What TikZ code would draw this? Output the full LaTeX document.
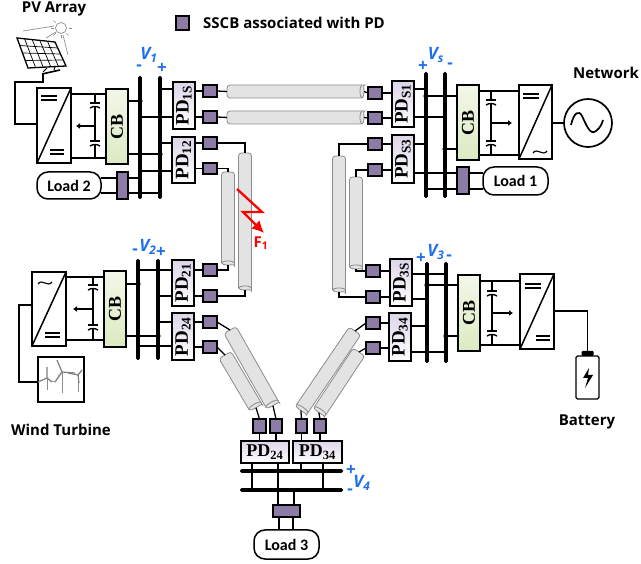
\documentclass[tikz,border=0pt]{standalone}
\usepackage{fontspec}
\setmainfont{Liberation Serif}
\newfontfamily\lab{Open Sans}
\newfontfamily\labc{Carlito}
\usetikzlibrary{calc,arrows.meta,shapes.geometric}
\definecolor{sscbc}{HTML}{8B7BA5}
\definecolor{vblue}{HTML}{1F6FEB}
\definecolor{cablec}{HTML}{E3E3E3}
\definecolor{cabled}{HTML}{8C8C8C}
\definecolor{pdtop}{HTML}{DDD5E8}
\definecolor{cbtop}{HTML}{F2F7E8}
\definecolor{cbbot}{HTML}{DCEAC2}
\tikzset{
  wire/.style={line width=1.3pt,black},
  sscb/.style={draw=black,line width=1.5pt,fill=sscbc,inner sep=0pt,outer sep=0pt},
  pdbox/.style={draw=black,line width=1.5pt,top color=pdtop,bottom color=white,inner sep=0pt,outer sep=0pt,font=\bfseries\fontsize{19}{19}\selectfont},
  pdflat/.style={pdbox,font=\bfseries\fontsize{18}{18}\selectfont},
  cbbox/.style={draw=black,line width=1.5pt,top color=cbtop,bottom color=cbbot,inner sep=0pt,outer sep=0pt,font=\bfseries\fontsize{18}{18}\selectfont},
  convbox/.style={draw=black,line width=1.5pt,fill=white,inner sep=0pt,outer sep=0pt},
  loadbox/.style={draw=black,line width=1.5pt,fill=white,rounded corners=11pt,inner sep=0pt,outer sep=0pt,font=\labc\bfseries\fontsize{16}{16}\selectfont},
  busbar/.style={fill=black,rounded corners=1.5pt,inner sep=0pt,outer sep=0pt},
  panelbox/.style={draw=black,line width=1.5pt,fill=white,inner sep=0pt,outer sep=0pt},
  title/.style={font=\lab\bfseries\fontsize{15}{16}\selectfont,inner sep=0pt},
  vlabel/.style={font=\lab\bfseries\itshape\fontsize{17}{18}\selectfont,text=vblue,inner sep=0pt},
  vsign/.style={font=\lab\bfseries\fontsize{17}{17}\selectfont,text=vblue,inner sep=0pt},
  vminus/.style={vsign,text height=5pt,text depth=0pt},
  gline/.style={draw=black!45,line width=0.7pt},
  blade/.style={draw=black!50,line width=1.2pt},
}
% name x1 y1 x2 y2 style text
\newcommand\bx[7]{\node[#6,minimum width={(#4-(#2))*1pt},minimum height={(#5-(#3))*1pt}] (#1) at ({(#2+#4)/2},{(#3+#5)/2}) {#7};}
\newcommand\rt[1]{\rotatebox{90}{#1}}
\newcommand\pd[1]{\rt{PD\textsubscript{#1}}}
\newcommand\hw[3]{\draw[wire] (#1 |- 0,#3) -- (#2 |- 0,#3);}
\newcommand\vw[3]{\draw[wire] (#3,0 |- #1) -- (#3,0 |- #2);}
\newcommand\dt[3]{\fill (#1 |- 0,#2) circle (#3pt);}
\newcommand\stub[2]{\draw[wire] (#1) -- (#1 -| #2);}
% cable: name, rounded end x y, cylinder end x y, half width
\newcommand\cable[6]{%
  \pgfmathsetmacro\cang{atan2((#5)-(#3),(#4)-(#2))}%
  \pgfmathsetmacro\clen{veclen((#5)-(#3),(#4)-(#2))}%
  \begin{scope}[shift={(#2,#3)},x=1pt,y=1pt,rotate=-\cang]
    \draw[draw=cabled,line width=0.8pt,fill=cablec] [rounded corners=3pt] (\clen,-#6) -- (0,-#6) -- (0,#6) -- (\clen,#6) [sharp corners] arc (90:-90:2 and #6);
    \draw[draw=cabled,line width=0.8pt] (\clen,#6) arc (90:270:2 and #6);
    \coordinate (#1a) at (0,0);
    \coordinate (#1b) at ({\clen+2},0);
  \end{scope}}
% capacitor branch: x, ytop, ybot, plate1, plate2
\newcommand\capb[5]{%
  \draw[wire] (#1,#2) -- (#1,#3);
  \foreach \py in {#4,#5}{
    \fill[white] (#1-1,\py-1) rectangle (#1+1,\py+1);
    \draw[line width=1.4pt] (#1-5,\py-2) -- (#1+5,\py-2);
    \draw[line width=1.4pt] (#1-5,\py+3) .. controls (#1-2,\py+1) and (#1+2,\py+1) .. (#1+5,\py+3);
  }}
\newcommand\tild[2]{\draw[line width=1.1pt] (#1-7,#2+1) .. controls (#1-3,#2-5) and (#1+3,#2+5) .. (#1+7,#2-1);}
\newcommand\dbl[3]{\draw[line width=1.1pt] (#1,#3-2) -- (#2,#3-2) (#1,#3+2) -- (#2,#3+2);}
\begin{document}
\begin{tikzpicture}[x=1pt,y=-1pt]
\useasboundingbox (0,0) rectangle (641,564);
% ---- cables
\cable{cA}{245}{153}{245}{288}{6.5}
\cable{cB}{228}{172}{228}{263}{6.5}
\cable{cC}{339}{156}{339}{290}{6.5}
\cable{cD}{356}{177}{356}{267}{6.5}
\cable{hA}{227}{91.5}{362}{91.5}{6.5}
\cable{hB}{227}{117.5}{362}{117.5}{6.5}
\cable{dA}{230}{330}{272}{404}{7}
\cable{dB}{225}{355}{255}{406}{7}
\cable{dC}{355}{331}{302}{409}{7}
\cable{dD}{359}{352}{320}{411}{7}
% ---- buses
\bx{bOa}{138.2}{76}{141.8}{199}{busbar}{}
\bx{bOb}{158.2}{76}{161.8}{199}{busbar}{}
\bx{bSa}{424.2}{72}{427.8}{198}{busbar}{}
\bx{bSb}{443.2}{72}{446.8}{198}{busbar}{}
\bx{bTa}{136.2}{259}{139.8}{360}{busbar}{}
\bx{bTb}{156.2}{259}{159.8}{360}{busbar}{}
\bx{bRa}{425.2}{262}{428.8}{363}{busbar}{}
\bx{bRb}{444.2}{262}{447.8}{363}{busbar}{}
\bx{bBa}{240}{469.2}{343}{472.8}{busbar}{}
\bx{bBb}{240}{488.2}{343}{491.8}{busbar}{}
% ---- CB
\bx{cbO}{106}{89}{128}{164}{cbbox}{\rt{CB}}
\bx{cbS}{457}{85}{479}{160}{cbbox}{\rt{CB}}
\bx{cbT}{104}{271}{126}{347}{cbbox}{\rt{CB}}
\bx{cbR}{458}{275}{480}{351}{cbbox}{\rt{CB}}
% ---- PD
\bx{pdOs}{173}{82}{195}{129}{pdbox}{\pd{1S}}
\bx{pdOt}{172}{137}{195}{183}{pdbox}{\pd{12}}
\bx{pdSa}{392}{81}{414}{127}{pdbox}{\pd{S1}}
\bx{pdSb}{392}{135}{414}{183}{pdbox}{\pd{S3}}
\bx{pdTa}{172}{260}{194}{306}{pdbox}{\pd{21}}
\bx{pdTb}{172}{313}{194}{360}{pdbox}{\pd{24}}
\bx{pdRa}{390}{259}{412}{306}{pdbox}{\pd{3S}}
\bx{pdRb}{389}{313}{411}{361}{pdbox}{\pd{34}}
\bx{pdBa}{241}{441}{289}{463}{pdflat}{PD\textsubscript{24}}
\bx{pdBb}{293}{441}{342}{463}{pdflat}{PD\textsubscript{34}}
% ---- SSCB
\bx{legend}{176}{16}{189}{30}{sscb}{}
\bx{sOa}{203}{85}{217}{97}{sscb}{}
\bx{sOb}{203}{111}{217}{123}{sscb}{}
\bx{sOc}{203}{137}{217}{149}{sscb}{}
\bx{sOd}{203}{163}{217}{174}{sscb}{}
\bx{sSa}{368}{87}{382}{99}{sscb}{}
\bx{sSb}{368}{112}{382}{124}{sscb}{}
\bx{sSc}{368}{138}{382}{150}{sscb}{}
\bx{sSd}{368}{164}{382}{176}{sscb}{}
\bx{sTa}{203}{264}{217}{276}{sscb}{}
\bx{sTb}{203}{290}{217}{302}{sscb}{}
\bx{sTc}{203}{316}{217}{328}{sscb}{}
\bx{sTd}{203}{341}{217}{353}{sscb}{}
\bx{sRa}{366}{265}{380}{277}{sscb}{}
\bx{sRb}{366}{291}{380}{303}{sscb}{}
\bx{sRc}{366}{317}{380}{329}{sscb}{}
\bx{sRd}{366}{342}{380}{354}{sscb}{}
\bx{sBa}{253}{419}{266}{433}{sscb}{}
\bx{sBb}{270}{419}{282}{433}{sscb}{}
\bx{sBc}{296}{419}{307}{433}{sscb}{}
\bx{sBd}{314}{419}{326}{433}{sscb}{}
\bx{sLa}{117}{172}{128}{199}{sscb}{}
\bx{sLb}{457}{167}{469}{194}{sscb}{}
\bx{sLc}{273}{505}{300}{517}{sscb}{}
% ---- loads
\bx{loadB}{37}{172}{101}{199}{loadbox}{Load 2}
\bx{loadA}{483}{167}{548}{195}{loadbox}{Load 1}
\bx{loadC}{254}{530}{319}{559}{loadbox}{Load 3}
% ---- converters
\bx{cvO}{37}{88}{71}{163}{convbox}{}
\bx{cvS}{519}{85}{552}{159}{convbox}{}
\bx{cvT}{32}{272}{66}{346}{convbox}{}
\bx{cvR}{520}{274}{554}{349}{convbox}{}
\foreach \c in {cvO,cvS,cvT,cvR}{\draw[line width=1.5pt] (\c.south west) -- (\c.north east);}
\dbl{41}{57}{98} \dbl{50}{64}{152}
\dbl{523}{539}{96} \tild{540}{152}
\tild{45}{283} \dbl{45}{60}{335}
\dbl{525}{541}{286} \dbl{536}{550}{338}
% ---- PV loop, wind loop
\coordinate (pvfoot) at (43,74);
\coordinate (pvbend) at (15,82);
\coordinate (pvleft) at (15,124);
\draw[wire] (pvfoot) |- (pvbend) -- (pvleft) -- (cvO.west |- pvleft);
\bx{wind}{38}{357}{84}{402}{panelbox}{}
\coordinate (wdtop) at (19,305);
\coordinate (wdbot) at (19,382);
\draw[wire] (cvT.west |- wdtop) -- (wdtop) -- (wdbot) -- (wind.west |- wdbot);
% ---- capacitor branches
\hw{cvO.east}{cbO.west}{94}
\hw{cvO.east}{cbO.west}{158}
\capb{95}{94}{158}{105}{143}
\draw[wire,-{Latex[length=4pt,width=6pt]}] (95,126) -- (76,126);
\hw{cvS.west}{cbS.east}{91}
\hw{cvS.west}{cbS.east}{155}
\capb{491}{91}{155}{102}{143}
\draw[wire,-{Latex[length=4pt,width=6pt]}] (491,123) -- (512,123);
\hw{cvT.east}{cbT.west}{277}
\hw{cvT.east}{cbT.west}{340}
\capb{93}{277}{340}{287}{327}
\draw[wire,-{Latex[length=4pt,width=6pt]}] (93,309) -- (73,309);
\hw{cvR.west}{cbR.east}{281}
\hw{cvR.west}{cbR.east}{345}
\capb{492}{281}{345}{293}{333}
\draw[wire,-{Latex[length=4pt,width=6pt]}] (492,313) -- (513,313);
% ---- CB to bus
\hw{cbO.east}{bOa}{101} \dt{bOa}{101}{2.6}
\hw{cbO.east}{bOb}{154} \dt{bOb}{154}{2.6}
\hw{cbS.west}{bSa}{96}  \dt{bSa}{96}{2.6}
\hw{cbS.west}{bSb}{149} \dt{bSb}{149}{2.6}
\hw{cbT.east}{bTa}{284} \dt{bTa}{284}{2.6}
\hw{cbT.east}{bTb}{336} \dt{bTb}{336}{2.6}
\hw{cbR.west}{bRa}{285} \dt{bRa}{285}{2.6}
\hw{cbR.west}{bRb}{336} \dt{bRb}{336}{2.6}
% ---- PD to bus
\hw{pdOs.west}{bOb}{89}  \dt{bOb}{89}{2}
\hw{pdOs.west}{bOa}{117} \dt{bOa}{117}{2}
\hw{pdOt.west}{bOb}{143} \dt{bOb}{143}{2}
\hw{pdOt.west}{bOa}{171} \dt{bOa}{171}{2}
\hw{pdSa.east}{bSa}{89}  \dt{bSa}{89}{2}
\hw{pdSa.east}{bSb}{117} \dt{bSb}{117}{2}
\hw{pdSb.east}{bSa}{144} \dt{bSa}{144}{2}
\hw{pdSb.east}{sLb.west}{173} \dt{bSb}{173}{2}
\hw{bSa}{sLb.west}{189} \dt{bSa}{189}{2}
\hw{sLa.east}{bOa}{178} \dt{bOa}{178}{2}
\hw{sLa.east}{bOb}{193} \dt{bOb}{193}{2}
\hw{loadB.east}{sLa.west}{178}
\hw{loadB.east}{sLa.west}{193}
\hw{sLb.east}{loadA.west}{173}
\hw{sLb.east}{loadA.west}{189}
\hw{pdTa.west}{bTa}{270} \dt{bTa}{270}{2}
\hw{pdTa.west}{bTb}{296} \dt{bTb}{296}{2}
\hw{pdTb.west}{bTb}{322} \dt{bTb}{322}{2}
\hw{pdTb.west}{bTa}{346} \dt{bTa}{346}{2}
\hw{pdRa.east}{bRb}{274} \dt{bRb}{274}{2}
\hw{pdRa.east}{bRa}{299} \dt{bRa}{299}{2}
\hw{pdRb.east}{bRa}{326} \dt{bRa}{326}{2}
\hw{pdRb.east}{bRb}{352} \dt{bRb}{352}{2}
% ---- SSCB stubs
\stub{sOa.west}{pdOs.east} \stub{sOb.west}{pdOs.east}
\stub{sOc.west}{pdOt.east} \stub{sOd.west}{pdOt.east}
\stub{sSa.east}{pdSa.west} \stub{sSb.east}{pdSa.west}
\stub{sSc.east}{pdSb.west} \stub{sSd.east}{pdSb.west}
\stub{sTa.west}{pdTa.east} \stub{sTb.west}{pdTa.east}
\stub{sTc.west}{pdTb.east} \stub{sTd.west}{pdTb.east}
\stub{sRa.east}{pdRa.west} \stub{sRb.east}{pdRa.west}
\stub{sRc.east}{pdRb.west} \stub{sRd.east}{pdRb.west}
\draw[wire] (sBa.south) -- (sBa.south |- pdBa.north);
\draw[wire] (sBb.south) -- (sBb.south |- pdBa.north);
\draw[wire] (sBc.south) -- (sBc.south |- pdBb.north);
\draw[wire] (sBd.south) -- (sBd.south |- pdBb.north);
% ---- SSCB to cables
\draw[wire] (sOc.east) -| (cAa); \draw[wire] (sOd.east) -| (cBa);
\draw[wire] (sTa.east) -| (cBb); \draw[wire] (sTb.east) -| (cAb);
\draw[wire] (sSc.west) -| (cCa); \draw[wire] (sSd.west) -| (cDa);
\draw[wire] (sRa.west) -| (cDb); \draw[wire] (sRb.west) -| (cCb);
\draw[wire] (sOa.east) -- (hAa); \draw[wire] (sOb.east) -- (hBa);
\draw[wire] (sSa.west) -- (hAb); \draw[wire] (sSb.west) -- (hBb);
\draw[wire] (sTc.east) -- (dAa); \draw[wire] (sTd.east) -- (dBa);
\draw[wire] (sRc.west) -- (dCa); \draw[wire] (sRd.west) -- (dDa);
\draw[wire] (dAb) -- (sBb.north); \draw[wire] (dBb) -- (sBa.north);
\draw[wire] (dCb) -- (sBc.north); \draw[wire] (dDb) -- (sBd.north);
% ---- bottom bus
\vw{pdBa.south}{bBb}{252}
\fill (252,0 |- bBb) circle (2pt);
\vw{pdBa.south}{sLc.north}{278} \fill (278,0 |- bBa) circle (2pt); \fill (278,0 |- bBb) circle (2pt);
\vw{bBb}{sLc.north}{294} \fill (294,0 |- bBb) circle (2pt);
\vw{pdBb.south}{bBa}{301} \fill (301,0 |- bBa) circle (2pt);
\vw{pdBb.south}{bBb}{323} \fill (323,0 |- bBb) circle (2pt);
\vw{sLc.south}{loadC.north}{279}
\vw{sLc.south}{loadC.north}{293}
% ---- source
\node[circle,draw=black,line width=1.7pt,minimum size=48pt,inner sep=0pt,outer sep=0pt] (src) at (588,123) {};
\draw[wire] (cvS.east |- src) -- (src.west);
\draw[line width=1.7pt] (571,125) .. controls (574,112) and (579,110) .. (582,116) .. controls (586,124) and (590,136) .. (596,131) .. controls (600,128) and (602,124) .. (603,120);
% ---- battery
\node[draw=black,line width=1.4pt,fill=white,rounded corners=1.5pt,minimum width=23pt,minimum height=43pt,inner sep=0pt,outer sep=0pt] (bat) at (587.5,377.5) {};
\node[fill=black,rounded corners=1pt,minimum width=12pt,minimum height=5pt,inner sep=0pt,outer sep=0pt] (batcap) at (587.5,353.5) {};
\draw[wire] (cvR.east |- 0,311) -| (batcap.north);
\fill (589,368) -- (583,378) -- (588,378) -- (585,388) -- (593,375) -- (588,375) -- cycle;
% ---- solar panel
\coordinate (pTL) at (17,38); \coordinate (pTR) at (55,42);
\coordinate (pBR) at (66,66); \coordinate (pBL) at (28,68);
\draw[line width=1.3pt,fill=white] (pTL) -- (pTR) -- (pBR) -- (pBL) -- cycle;
\foreach \t in {0.2,0.4,0.6,0.8}{\draw[line width=0.7pt] ($(pTL)!\t!(pTR)$) -- ($(pBL)!\t!(pBR)$);}
\foreach \t in {0.25,0.5,0.75}{\draw[line width=0.7pt] ($(pTL)!\t!(pBL)$) -- ($(pTR)!\t!(pBR)$);}
\draw[line width=1pt] (47,68) -- (43,72) (55,67) -- (54,70);
\draw[line width=1.6pt] (42,74) -- (60,70);
\draw[gline] (61,28) circle (5.5pt);
\draw[gline] (23,31) -- (54,26) (46,38) -- (56,32) (68,55) -- (63,35);
\foreach \a in {0,45,90,135,180,225}{\draw[gline,line width=0.5pt] (61,28) ++(\a:7.5) -- ++(\a:3);}
% ---- turbines
\draw[gline,line width=1pt] (47,378) -- (47,390) (62,372) -- (62,393) (78,375) -- (78,392);
\draw[blade] (47,378) -- (47,367) (47,378) -- (38,382) (47,378) -- (52,382);
\draw[blade] (62,372) -- (57,360) (62,372) -- (75,373) (62,372) -- (55,382);
\draw[blade] (78,375) -- (82,370) (78,375) -- (68,373) (78,375) -- (79,383);
\draw[gline] (52,381) -- (55,382) -- (60,374);
% ---- fault
\draw[red,line width=2.3pt,-{Latex[length=12pt,width=12pt]},line join=miter] (237,189) -- (262,212) -- (243,212) -- (264,233);
% ---- text
\node[title] (tPV) at (54,9) {PV Array};
\node[title] (tNet) at (606,73) {Network};
\node[title] (tWT) at (61,430) {Wind Turbine};
\node[title] (tBat) at (587,422) {Battery};
\node[title,anchor=west] (tLeg) at (203,23) {SSCB associated with PD};
\node[font=\lab\bfseries\fontsize{15}{16}\selectfont,text=red,inner sep=0pt] (tF) at (261,243) {F\textsubscript{1}};
\node[vlabel] (v1) at (149,55) {V\textsubscript{1}};
\node[vminus] (v1m) at (139,68) {-};
\node[vsign] (v1p) at (162,68) {+};
\node[vlabel] (vs) at (436,55) {V\textsubscript{s}};
\node[vsign] (vsp) at (423,66) {+};
\node[vminus] (vsm) at (450,66) {-};
\node[vlabel] (v2) at (148,247) {V\textsubscript{2}};
\node[vminus] (v2m) at (135,252) {-};
\node[vsign] (v2p) at (161,252) {+};
\node[vlabel] (v3) at (436,252) {V\textsubscript{3}};
\node[vsign] (v3p) at (421,258) {+};
\node[vminus] (v3m) at (449,258) {-};
\node[vlabel] (v4) at (362,483) {V\textsubscript{4}};
\node[vsign] (v4p) at (351,470) {+};
\node[vminus] (v4m) at (350,492) {-};
\end{tikzpicture}
\end{document}
